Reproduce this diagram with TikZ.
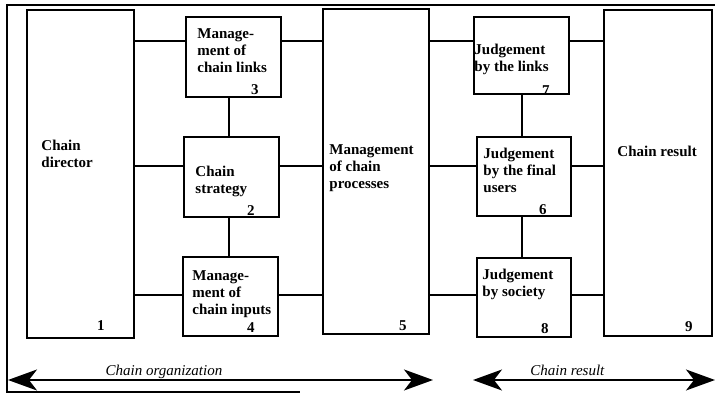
\documentclass[tikz,border=0pt]{standalone}
\usepackage{fontspec}
\setmainfont{Liberation Serif}
\usetikzlibrary{arrows.meta}

\begin{document}
\begin{tikzpicture}[x=1pt, y=-1pt,
    box/.style={draw, line width=1.5pt, inner sep=0pt},
    link/.style={line width=1.3pt},
    lbl/.style={anchor=base west, align=left, inner sep=0pt,
      font=\fontsize{15}{17}\selectfont\bfseries},
    num/.style={anchor=base, inner sep=0pt,
      font=\fontsize{15}{17}\selectfont\bfseries},
    span/.style={line width=1.6pt, {Stealth[length=29pt, width=21pt, inset=8pt]}-{Stealth[length=29pt, width=21pt, inset=8pt]}},
    spanlbl/.style={anchor=base, yshift=5pt, inner sep=0pt,
      font=\fontsize{15}{18}\selectfont\itshape}
  ]
  \useasboundingbox (0,0) rectangle (715,395);

  % Outer frame (open on the right)
  \draw[line width=2.6pt] (7,5) -- (715,5);
  \draw[line width=1.4pt] (7,4) -- (7,392) -- (300,392);

  % Chain organization boxes
  \node[box, minimum width=107pt, minimum height=328pt] (b1) at (80.5,174) {};
  \node[box, minimum width=95pt, minimum height=80pt] (b3) at (233.5,57) {};
  \node[box, minimum width=95pt, minimum height=80pt] (b2) at (231.5,177) {};
  \node[box, minimum width=95pt, minimum height=79pt] (b4) at (230.5,296.5) {};
  \node[box, minimum width=106pt, minimum height=325pt] (b5) at (376,171.5) {};
  % Chain result boxes
  \node[box, minimum width=95pt, minimum height=77pt] (b7) at (521.5,55.5) {};
  \node[box, minimum width=94pt, minimum height=79pt] (b6) at (524,176.5) {};
  \node[box, minimum width=94pt, minimum height=79pt] (b8) at (524,297.5) {};
  \node[box, minimum width=108pt, minimum height=326pt] (b9) at (658,173) {};

  % Rows and columns of the links
  \coordinate (hi) at (0,41);
  \coordinate (mid) at (0,166);
  \coordinate (lo) at (0,295);
  \coordinate (colL) at (229,0);
  \coordinate (colR) at (522,0);

  \foreach \a/\b/\h in {b1/b3/hi, b3/b5/hi, b1/b2/mid, b2/b5/mid, b1/b4/lo, b4/b5/lo,
                        b5/b7/hi, b7/b9/hi, b5/b6/mid, b6/b9/mid, b5/b8/lo, b8/b9/lo}
    \draw[link] (\a.east |- \h) -- (\b.west |- \h);
  \foreach \a/\b/\c in {b3/b2/colL, b2/b4/colL, b7/b6/colR, b6/b8/colR}
    \draw[link] (\a.south -| \c) -- (\b.north -| \c);

  % Box texts (base is the last line)
  \path (b1.north west) ++(15,158) node[lbl] (t1) {Chain\\director};
  \path (b3.north west) ++(12,56.5) node[lbl] (t3) {Manage-\\ment of\\chain links};
  \path (b2.north west) ++(12,57) node[lbl] (t2) {Chain\\strategy};
  \path (b4.north west) ++(10,58) node[lbl] (t4) {Manage-\\ment of\\chain inputs};
  \path (b5.north west) ++(7,180) node[lbl] (t5) {Management\\of chain\\processes};
  \path (b7.north west) ++(1,55) node[lbl] (t7) {Judgement\\by the links};
  \path (b6.north west) ++(7,56) node[lbl] (t6) {Judgement\\by the final\\users};
  \path (b8.north west) ++(6,39) node[lbl] (t8) {Judgement\\by society};
  \path (b9.north west) ++(14,147) node[lbl] (t9) {Chain result};

  % Box numbers
  \path (b1.south east) ++(-34,-8) node[num] (n1) {1};
  \path (b2.south east) ++(-29,-2) node[num] (n2) {2};
  \path (b3.south east) ++(-27,-3) node[num] (n3) {3};
  \path (b4.south east) ++(-28,-4) node[num] (n4) {4};
  \path (b5.south east) ++(-27,-4) node[num] (n5) {5};
  \path (b6.south east) ++(-29,-2) node[num] (n6) {6};
  \path (b7.south east) ++(-24,1) node[num] (n7) {7};
  \path (b8.south east) ++(-27,-4) node[num] (n8) {8};
  \path (b9.south east) ++(-24,-5) node[num] (n9) {9};

  % Spans at the bottom
  \coordinate (orgL) at (8,380);
  \coordinate (orgR) at (433,380);
  \coordinate (resL) at (473,380);
  \coordinate (resR) at (715,380);
  \draw[span] (orgL) -- node[spanlbl, pos=0.367] (orgT) {Chain organization} (orgR);
  \draw[span] (resL) -- node[spanlbl, pos=0.39] (resT) {Chain result} (resR);

\end{tikzpicture}
\end{document}
